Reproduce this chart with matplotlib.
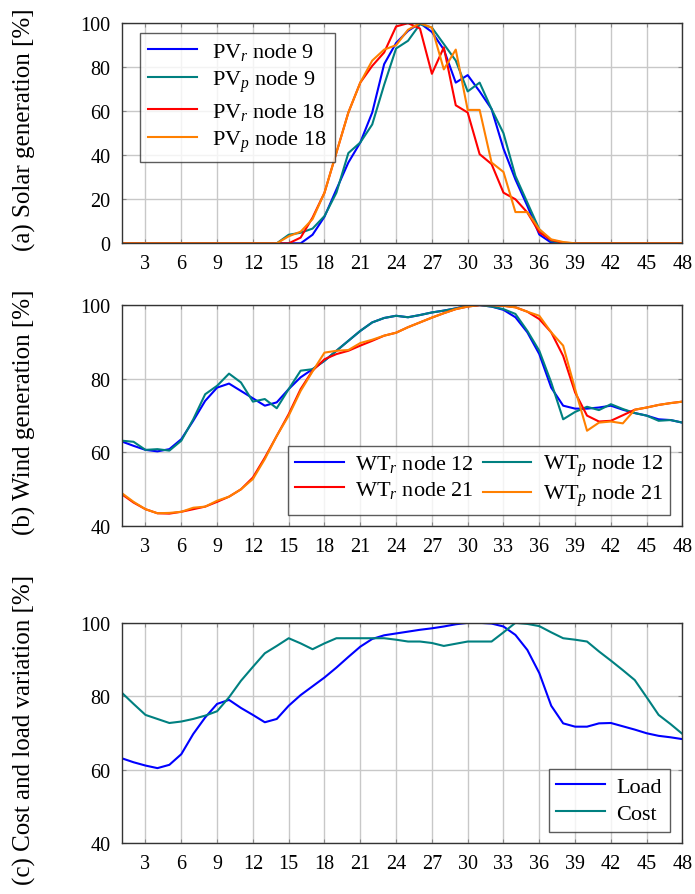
import matplotlib
matplotlib.use("Agg")
import matplotlib.pyplot as plt
import numpy as np

plt.rcParams['font.family'] = ['Liberation Serif', 'DejaVu Serif']
plt.rcParams['mathtext.fontset'] = 'custom'
plt.rcParams['mathtext.rm'] = 'Liberation Serif'
plt.rcParams['mathtext.it'] = 'Liberation Serif:italic'

hours = list(range(1, 49))

pv_r9 = [0]*15 + [0, 3.9, 12.1, 24.5, 36.7, 45.8, 59.4, 81.4, 91.0, 96.5, 100, 96, 88, 73, 76.4,
                  69, 61, 43, 29, 17, 4, 0.3] + [0]*11
pv_p9 = [0]*14 + [3.9, 4.8, 6.7, 12.4, 23, 41, 45.8, 54, 72, 88.5, 92, 99.5, 98, 90.5, 83, 69,
                  73, 61, 50, 30.6, 18.5, 6.4, 1] + [0]*11
pv_r18 = [0]*15 + [2.6, 11.7, 23, 41.2, 59.4, 73, 80.6, 86.7, 98.5, 100, 97.6, 77, 89, 62.7, 59.4,
                   40.5, 36, 23, 20, 14, 5, 1.5, 0.3] + [0]*10
pv_p18 = [0]*14 + [3.2, 5.3, 11, 23, 41.2, 59.4, 73, 83, 88, 90, 97, 100, 98, 79, 88, 60.6,
                   60.6, 36.7, 32.4, 14.2, 14.2, 6.4, 1.8, 0.6] + [0]*10

wt_r12 = [63, 61.8, 60.7, 60.3, 60.9, 63.6, 68.6, 74, 77.6, 78.7, 76.7, 74.7, 72.7, 73.6, 77.2,
          80.4, 82.6, 84.9, 87.6, 90.3, 93, 95.3, 96.5, 97.1, 96.7, 97.3, 98, 98.5, 99.1, 99.8,
          100, 99.6, 98.7, 96.7, 92.6, 86.7, 77.6, 72.7, 71.9, 71.9, 72.2, 72.7, 71.6, 70.7,
          70, 69, 68.8, 68.1]
wt_p12 = [63.2, 62.9, 60.7, 60.9, 60.5, 63.2, 69, 75.8, 78.1, 81.4, 79, 73.8, 74.5, 72, 77.2,
          82.2, 82.6, 84.9, 87.6, 90.3, 93, 95.3, 96.5, 97.1, 96.7, 97.3, 98, 98.5, 99.1, 99.8,
          100, 99.6, 98.9, 97.6, 93, 87.6, 79, 69, 71, 72.4, 71.5, 73.1, 71.8, 70.7, 70,
          68.6, 68.8, 68.1]
wt_r21 = [48.7, 46.4, 44.6, 43.5, 43.4, 43.9, 44.6, 45.3, 46.6, 48, 50, 53.2, 58.6, 64.5, 70.4,
          77.2, 82.2, 85.3, 86.7, 87.6, 89, 90.3, 91.7, 92.5, 94, 95.3, 96.6, 97.8, 98.9, 99.6,
          100, 100, 99.8, 99.4, 98.2, 96.2, 92.6, 86.2, 76.3, 70, 68.4, 68.6, 70.1, 71.6, 72.2,
          72.9, 73.4, 73.8]
wt_p21 = [49, 46.6, 44.6, 43.5, 43.6, 43.9, 45, 45.3, 46.9, 48, 50, 52.8, 58.2, 64.5, 70,
          76.7, 82, 87.1, 87.6, 87.8, 89.7, 90.6, 91.7, 92.5, 94, 95.3, 96.6, 97.8, 98.9, 99.6,
          100, 100, 99.8, 99.4, 98.2, 97.1, 92.6, 89, 77.2, 65.9, 68.1, 68.4, 67.9, 71.6, 72.2,
          72.9, 73.4, 73.8]

load = [63.1, 62, 61.1, 60.4, 61.3, 64.2, 69.7, 74.2, 77.9, 79, 76.8, 74.9, 72.9, 73.8, 77.4,
        80.3, 82.7, 85.1, 87.8, 90.7, 93.5, 95.6, 96.6, 97.1, 97.6, 98.1, 98.5, 99, 99.6, 100,
        100, 99.8, 99, 96.7, 92.6, 86.3, 77.4, 72.6, 71.7, 71.7, 72.6, 72.7, 71.8, 70.9, 69.9,
        69.2, 68.8, 68.3]
cost = [81, 77.9, 74.9, 73.8, 72.7, 73.1, 73.8, 74.7, 75.9, 79.7, 84.2, 88, 91.7, 93.7, 95.8,
        94.4, 92.8, 94.4, 95.8, 95.8, 95.8, 95.8, 95.8, 95.4, 94.9, 94.9, 94.5, 93.7, 94.3, 94.9,
        94.9, 94.9, 97.4, 100, 99.7, 99.1, 97.4, 95.8, 95.4, 94.9, 92.2, 89.7, 87.1, 84.4, 79.7,
        74.9, 72.4, 69.7]

xticks = list(range(3, 49, 3))

BLUE = (0, 0, 1)
TEAL = (0, 0.5, 0.5)
RED = (1, 0, 0)
ORANGE = (1, 0.5, 0)

fig = plt.figure(figsize=(6.95, 8.95), dpi=100)
L, W = 0.175, 0.807
ax_a = fig.add_axes([L, 0.727, W, 0.246])
ax_b = fig.add_axes([L, 0.411, W, 0.247])
ax_c = fig.add_axes([L, 0.057, W, 0.246])

TFS = 14.5
FS = 16
YFS = 18
lw = 1.5

def style(ax, ylim, yticks, ylabel):
    ax.set_xlim(1, 48)
    ax.set_ylim(*ylim)
    ax.set_xticks(xticks)
    ax.set_yticks(yticks)
    ax.grid(True, color='#c8c8c8', linewidth=1.0)
    ax.set_axisbelow(True)
    ax.tick_params(direction='in', top=True, right=True, labelsize=TFS, length=3,
                   color='#888888')
    ax.tick_params(axis='x', pad=8)
    ax.tick_params(axis='y', pad=8)
    ax.set_ylabel(ylabel, fontsize=YFS)
    ax.yaxis.set_label_coords(-0.152, 0.52)
    for s in ax.spines.values():
        s.set_linewidth(1.0)
        s.set_color('#333333')

ax_a.plot(hours, pv_r9, color=BLUE, lw=lw, label=r'PV$_{r}$ node 9')
ax_a.plot(hours, pv_p9, color=TEAL, lw=lw, label=r'PV$_{p}$ node 9')
ax_a.plot(hours, pv_r18, color=RED, lw=lw, label=r'PV$_{r}$ node 18')
ax_a.plot(hours, pv_p18, color=ORANGE, lw=lw, label=r'PV$_{p}$ node 18')
style(ax_a, (0, 100), [0, 20, 40, 60, 80, 100], '(a) Solar generation [%]')
leg = ax_a.legend(loc='upper left', bbox_to_anchor=(0.025, 0.975), fontsize=FS, frameon=True,
                  fancybox=False, edgecolor='#333333', handlelength=2.2, labelspacing=0.3,
                  borderpad=0.35, handletextpad=0.7, borderaxespad=0.2)
leg.get_frame().set_linewidth(1.0)

ax_b.plot(hours, wt_r12, color=BLUE, lw=lw, label=r'WT$_{r}$ node 12')
ax_b.plot(hours, wt_p12, color=TEAL, lw=lw, label=r'WT$_{p}$ node 12')
ax_b.plot(hours, wt_r21, color=RED, lw=lw, label=r'WT$_{r}$ node 21')
ax_b.plot(hours, wt_p21, color=ORANGE, lw=lw, label=r'WT$_{p}$ node 21')
style(ax_b, (40, 100), [40, 60, 80, 100], '(b) Wind generation [%]')
h, l = ax_b.get_legend_handles_labels()
order = [0, 2, 1, 3]
leg = ax_b.legend([h[i] for i in order], [l[i] for i in order], ncol=2, loc='lower right',
                  bbox_to_anchor=(0.985, 0.03), fontsize=FS, frameon=True, fancybox=False,
                  edgecolor='#333333', handlelength=2.2, labelspacing=0.2, borderpad=0.3,
                  columnspacing=0.4, handletextpad=0.5, borderaxespad=0.2)
leg.get_frame().set_linewidth(1.0)

ax_c.plot(hours, load, color=BLUE, lw=lw, label='Load')
ax_c.plot(hours, cost, color=TEAL, lw=lw, label='Cost')
style(ax_c, (40, 100), [40, 60, 80, 100], '(c) Cost and load variation [%]')
leg = ax_c.legend(loc='lower right', bbox_to_anchor=(0.985, 0.03), fontsize=FS, frameon=True,
                  fancybox=False, edgecolor='#333333', handlelength=2.2, labelspacing=0.3,
                  borderpad=0.35, handletextpad=0.5, borderaxespad=0.2)
leg.get_frame().set_linewidth(1.0)

fig.savefig('out.png', dpi=100)
